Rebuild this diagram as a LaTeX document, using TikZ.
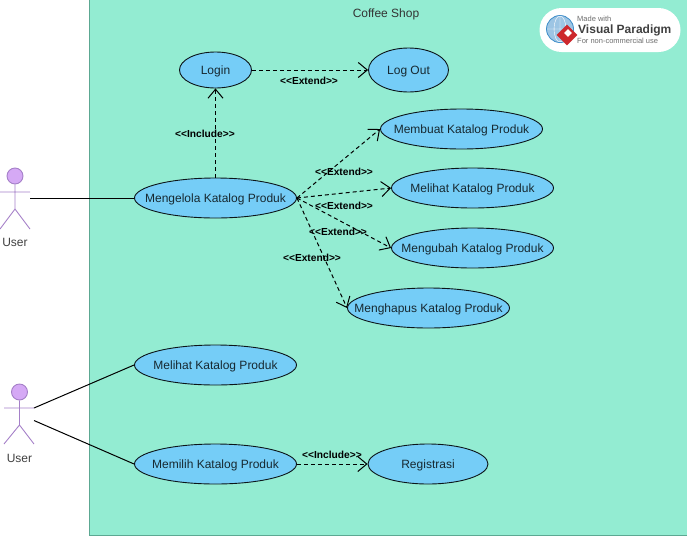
\documentclass[tikz,border=0pt]{standalone}
\usepackage{fontspec}
\setmainfont{Liberation Sans}
\usepackage{xcolor}
\definecolor{shopteal}{RGB}{147,236,210}
\definecolor{shopedge}{RGB}{92,168,146}
\definecolor{caseblue}{RGB}{117,205,247}
\definecolor{actorlilac}{RGB}{213,169,245}
\definecolor{actoredge}{RGB}{165,128,200}
\definecolor{logored}{RGB}{205,40,45}
\definecolor{logoblue}{RGB}{60,140,200}
\definecolor{logogrey}{RGB}{110,110,110}
\usetikzlibrary{positioning,arrows.meta,shapes.geometric}

\newcommand{\casetext}[1]{\makebox[0pt]{\raisebox{-4.4pt}[0pt][0pt]{#1}}}

\tikzset{
  usecase/.style={draw=black!90!caseblue,line width=0.9pt,fill=caseblue,ellipse,inner sep=0pt,
    font=\fontsize{12}{14}\selectfont,text=black!80!caseblue},
  actorline/.style={draw=actoredge,line width=0.9pt},
  actorname/.style={font=\fontsize{12}{14}\selectfont,text=black!75},
  assoc/.style={draw=black,line width=1pt},
  dep/.style={draw=black,line width=1pt,dashed,dash pattern=on 4pt off 3pt,
    -{Straight Barb[length=9pt,width=15pt,line width=1pt]}},
  deplabel/.style={font=\fontsize{10.2}{12}\selectfont\bfseries,inner sep=0pt},
}

\begin{document}
\begin{tikzpicture}[x=1pt,y=-1pt]
  \useasboundingbox (0,0) rectangle (687,536);

  % system boundary
  \node[draw=shopedge,fill=shopteal,minimum width=610pt,minimum height=546pt,
        inner sep=0pt,anchor=north west] (shop) at (89,-11) {};
  \node[font=\fontsize{12}{14}\selectfont,text=black!80] (shoptitle) at (386,14.7) {Coffee Shop};

  % logo
  \node[fill=white,rounded corners=22pt,minimum width=141pt,minimum height=44pt,
        inner sep=0pt] (logo) at (610,30) {};
  \node[circle,draw=logoblue,thick,fill=logoblue!50,minimum size=27pt,inner sep=0pt] (globe) at (560,29) {};
  \draw[white,thin] (547,29) -- (573,29) (560,16) -- (560,42) (560,29) ellipse (6pt and 13pt);
  \node[diamond,fill=logored,minimum size=21pt,inner sep=0pt] (mark) at (567,35) {};
  \node[diamond,fill=white,minimum size=8pt,inner sep=0pt] (markhole) at (568,33) {};
  \node[anchor=west,inner sep=0pt,text=logogrey,font=\fontsize{7.5}{9}\selectfont] (logotop) at (577,19) {Made with};
  \node[anchor=west,inner sep=0pt,text=black!75,font=\fontsize{12}{14}\selectfont\bfseries] (logomain) at (578,30) {Visual Paradigm};
  \node[anchor=west,inner sep=0pt,text=logogrey,font=\fontsize{7.5}{9}\selectfont] (logobottom) at (577,41) {For non-commercial use};

  % use cases
  \node[usecase,minimum width=72pt,minimum height=36pt] (login) at (215.5,70) {\casetext{Login}};
  \node[usecase,minimum width=80pt,minimum height=44pt] (logout) at (408.5,70) {\casetext{Log Out}};
  \node[usecase,minimum width=162pt,minimum height=40pt] (kelola) at (215.5,198) {\casetext{Mengelola Katalog Produk}};
  \node[usecase,minimum width=162pt,minimum height=40pt] (buat) at (461.5,129) {\casetext{Membuat Katalog Produk}};
  \node[usecase,minimum width=162pt,minimum height=40pt] (lihat) at (472.5,188) {\casetext{Melihat Katalog Produk}};
  \node[usecase,minimum width=162pt,minimum height=40pt] (ubah) at (472.5,248) {\casetext{Mengubah Katalog Produk}};
  \node[usecase,minimum width=162pt,minimum height=40pt] (hapus) at (428.5,308) {\casetext{Menghapus Katalog Produk}};
  \node[usecase,minimum width=162pt,minimum height=40pt] (lihatdua) at (215.5,365) {\casetext{Melihat Katalog Produk}};
  \node[usecase,minimum width=162pt,minimum height=40pt] (pilih) at (215.5,464) {\casetext{Memilih Katalog Produk}};
  \node[usecase,minimum width=120pt,minimum height=40pt] (registrasi) at (428,464) {\casetext{Registrasi}};

  % actors
  \node[circle,actorline,fill=actorlilac,minimum size=16pt,inner sep=0pt] (headone) at (15,176) {};
  \draw[actorline] (headone.south) -- (15,209) (0,192) -- (30,192) (0,229) -- (15,209) -- (30,229);
  \node[actorname] (userone) at (15,242) {User};
  \coordinate (handone) at (30,198);

  \node[circle,actorline,fill=actorlilac,minimum size=16pt,inner sep=0pt] (headtwo) at (19.5,392) {};
  \draw[actorline] (headtwo.south) -- (19.5,425) (4,408) -- (34,408) (4,444) -- (19.5,425) -- (34,444);
  \node[actorname] (usertwo) at (19.5,458) {User};
  \coordinate (handtwo) at (34,408);
  \coordinate (hiptwo) at (34,420.5);

  % connectors
  \draw[assoc] (handone) -- (kelola.west);
  \draw[assoc] (handtwo) -- (lihatdua.west);
  \draw[assoc] (hiptwo) -- (pilih.west);

  \draw[dep] (kelola.north) -- (login.south);
  \draw[dep] (login.east) -- (logout.west);
  \draw[dep] (kelola.east) -- (buat.west);
  \draw[dep] (kelola.east) -- (lihat.west);
  \draw[dep] (kelola.east) -- (ubah.west);
  \draw[dep] (kelola.east) -- (hapus.west);
  \draw[dep] (pilih.east) -- (registrasi.west);

  \node[deplabel] (inclogin) at (205,134.3) {<{}<Include>{}>};
  \node[deplabel] (extlogout) at (309,81.3) {<{}<Extend>{}>};
  \node[deplabel] (extbuat) at (344,172.3) {<{}<Extend>{}>};
  \node[deplabel] (extlihat) at (344,206.3) {<{}<Extend>{}>};
  \node[deplabel] (extubah) at (338,232.3) {<{}<Extend>{}>};
  \node[deplabel] (exthapus) at (312,258.3) {<{}<Extend>{}>};
  \node[deplabel] (incregis) at (332,455.3) {<{}<Include>{}>};
\end{tikzpicture}
\end{document}
